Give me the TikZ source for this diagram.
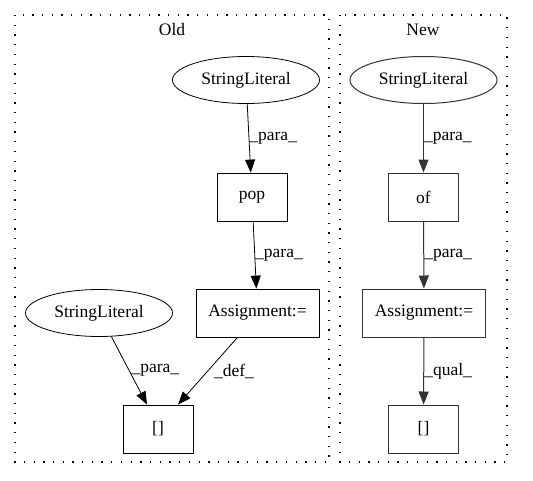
\documentclass[tikz,border=0pt]{standalone}
\usepackage{fontspec}
\setmainfont{Liberation Serif}
\usetikzlibrary{shapes.geometric,arrows.meta}

\begin{document}
\begin{tikzpicture}[
            x=1pt, y=-1pt,
            font=\fontsize{17.5}{20}\selectfont,
            box node/.style={rectangle,draw,line width=0.8pt,minimum width=70,minimum height=48,inner sep=2pt},
            lit node/.style={ellipse,draw,line width=0.8pt,minimum width=147,minimum height=47,inner sep=1pt},
            edge/.style={-{Triangle[length=13pt,width=10pt]},line width=0.8pt},
            lbl/.style={right,inner sep=0pt},
            cluster/.style={draw,line width=1.3pt,dash pattern=on 1.3pt off 8.4pt},
            newc/.style={draw=black!80,line width=1pt},
            ]
            \useasboundingbox (0,0) rectangle (533,480);

            % clusters
            \draw[cluster] (15,15) rectangle (329,462);
            \draw[cluster] (340,15) rectangle (507,462);
            \node (oldt) at (172,30) {Old};
            \node (newt) at (423,30) {New};

            % old
            \node[lit node] (sl1) at (246,80) {StringLiteral};
            \node[box node] (pop) at (252,197) {pop};
            \node[box node, minimum width=123] (as1) at (257.5,313) {Assignment:=};
            \node[lit node] (sl2) at (99,313) {StringLiteral};
            \node[box node] (br1) at (158,429) {[]};

            % new
            \node[lit node, newc] (sl3) at (423.5,80) {StringLiteral};
            \node[box node, newc] (of) at (423.5,197) {of};
            \node[box node, newc, minimum width=123] (as2) at (424,313) {Assignment:=};
            \node[box node, newc] (br2) at (423.5,429) {[]};

            \draw[edge] (sl1) -- (pop) node[lbl, midway] {\_para\_};
            \draw[edge] (pop) -- (as1) node[lbl, midway] {\_para\_};
            \draw[edge] (sl2) -- ([xshift=-11]br1.north) node[lbl, midway, xshift=2] {\_para\_};
            \draw[edge] ([xshift=-20]as1.south) -- ([xshift=20]br1.north) node[lbl, midway, xshift=6] {\_def\_};

            \draw[edge, black!80, line width=1pt] (sl3) -- (of) node[lbl, midway, black] {\_para\_};
            \draw[edge, black!80, line width=1pt] (of) -- (as2) node[lbl, midway, black] {\_para\_};
            \draw[edge, black!80, line width=1pt] (as2) -- (br2) node[lbl, midway, black] {\_qual\_};
        \end{tikzpicture}
\end{document}
